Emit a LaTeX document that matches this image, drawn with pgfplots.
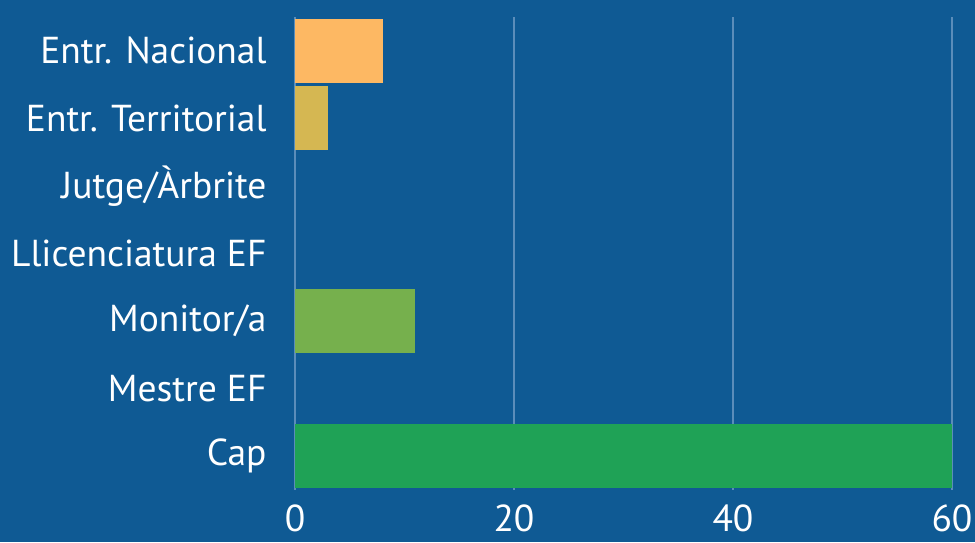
\documentclass[border=0pt]{standalone}
\usepackage{pgfplots}
\pgfplotsset{compat=1.18}
\usepackage{fontspec}
\setmainfont{PT Sans}
\definecolor{bgblue}{HTML}{0F5A94}
\definecolor{gridblue}{HTML}{5B8DBA}
\definecolor{cNac}{HTML}{FDB863}
\definecolor{cTer}{HTML}{D5B752}
\definecolor{cMon}{HTML}{76B04D}
\definecolor{cCap}{HTML}{1FA256}
\begin{document}
\begin{tikzpicture}[x=1pt,y=1pt]
\fill[bgblue] (0,0) rectangle (975,542);
\useasboundingbox (0,0) rectangle (975,542);
\begin{axis}[
  at={(295pt,52pt)}, anchor=south west,
  scale only axis, width=657pt, height=473pt,
  xmin=0, xmax=60, ymin=-0.5, ymax=6.5, y dir=reverse,
  xtick={0,20,40,60},
  ytick={0,1,2,3,4,5,6},
  yticklabels={Entr. Nacional,Entr. Territorial,Jutge/Àrbrite,Llicenciatura EF,Monitor/a,Mestre EF,Cap},
  major tick length=0pt,
  axis line style={draw=none},
  xmajorgrids, grid style={gridblue, line width=1.3pt},
  tick label style={font=\fontsize{37.5}{42}\selectfont, text=white},
  /pgf/number format/assume math mode=true,
  xticklabel style={yshift=-11pt},
  yticklabel style={xshift=-25pt},
  xbar, bar width=64pt, bar shift=0pt,
  clip=false,
]
\addplot[fill=cNac, draw=none] coordinates {(8,0)};
\addplot[fill=cTer, draw=none] coordinates {(3,1)};
\addplot[fill=cMon, draw=none] coordinates {(11,4)};
\addplot[fill=cCap, draw=none] coordinates {(60,6)};
\end{axis}
\end{tikzpicture}
\end{document}
